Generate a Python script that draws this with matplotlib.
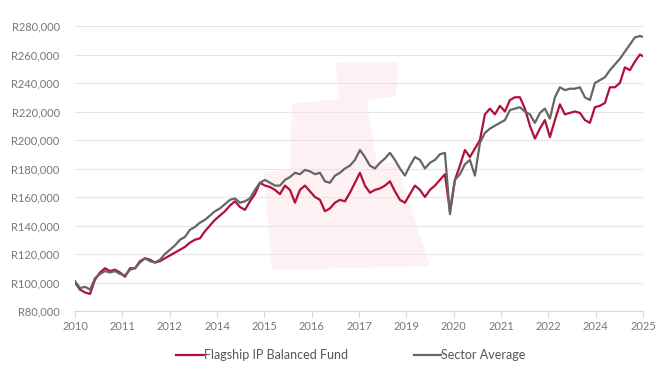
import numpy as np
import matplotlib
matplotlib.use("Agg")
import matplotlib.pyplot as plt
from matplotlib.patches import Polygon
from matplotlib.ticker import FuncFormatter

# ---- data (values in Rand) ----
tick_labels = ["2010", "2011", "2012", "2014", "2015", "2016", "2017",
               "2019", "2020", "2021", "2022", "2024", "2025"]

fund_k = [100, 95, 93, 92, 102, 107, 110, 108, 109, 107, 104, 110, 110, 115, 117,
          116, 114, 115, 117, 119, 121, 123, 125, 128, 130, 131, 136, 140, 144, 147,
          150, 154, 157, 153, 151, 157, 162, 170, 168, 167, 165, 162, 168, 165, 156,
          165, 168, 164, 160, 158, 150, 152, 156, 158, 157, 163, 170, 177, 168, 163,
          165, 166, 168, 171, 164, 158, 156, 162, 168, 165, 160, 165, 168, 172, 176,
          150, 172, 182, 193, 188, 194, 200, 218, 222, 218, 224, 220, 228, 230, 230,
          222, 210, 201, 208, 214, 202, 214, 225, 218, 219, 220, 219, 214, 212, 223,
          224, 226, 237, 237, 240, 251, 249, 255, 260, 258]

sector_k = [101, 96, 97, 95, 103, 106, 108, 107, 108, 106, 105, 109, 110, 114, 117,
            115, 114, 116, 120, 123, 126, 130, 132, 137, 139, 142, 144, 147, 150, 152,
            155, 158, 159, 156, 157, 159, 165, 170, 172, 170, 168, 168, 172, 174, 177,
            176, 179, 178, 176, 177, 171, 170, 175, 177, 180, 182, 186, 193, 188, 182,
            180, 184, 187, 191, 186, 180, 175, 182, 188, 186, 180, 184, 186, 190, 191,
            148, 172, 176, 183, 186, 175, 198, 205, 208, 210, 212, 214, 221, 222, 223,
            220, 218, 212, 219, 222, 215, 230, 237, 235, 236, 236, 237, 230, 228, 240,
            242, 244, 249, 253, 257, 262, 267, 272, 273, 272]

fund = np.array(fund_k) * 1000
sector = np.array(sector_k) * 1000

# ---- layout ----
W, H = 666, 376
fig = plt.figure(figsize=(W / 100, H / 100), dpi=100)
L, R, T, B = 75, 643, 26, 311
ax = fig.add_axes([L / W, 1 - B / H, (R - L) / W, (B - T) / H])
ax.set_facecolor("none")

# faint watermark (sail logo) behind the chart
def px(pts):
    return [(x / W, 1 - y / H) for x, y in pts]

wm = "#fdf1f3"
for poly in ([(335, 63), (398, 62), (396, 96), (340, 104)],
             [(292, 104), (366, 96), (378, 172), (290, 178)],
             [(264, 172), (396, 162), (430, 266), (272, 270)]):
    fig.patches.append(Polygon(px(poly), closed=True, transform=fig.transFigure,
                               facecolor=wm, edgecolor="none", zorder=-1))

n = len(fund)
x = np.linspace(0, 12.04, n)

red = "#b0113a"
grey = "#666666"
ax.plot(x, fund, color=red, lw=1.6, label="Flagship IP Balanced Fund", zorder=3,
        solid_joinstyle="round")
ax.plot(x, sector, color=grey, lw=1.6, label="Sector Average", zorder=3,
        solid_joinstyle="round")

ax.set_xlim(0, 12)
ax.set_ylim(80000, 280000)
ax.set_yticks(np.arange(80000, 280001, 20000))
ax.yaxis.set_major_formatter(FuncFormatter(lambda v, p: f"R{int(v):,}"))
ax.set_xticks(np.arange(len(tick_labels)))
ax.set_xticklabels(tick_labels)

for lab in ax.get_xticklabels() + ax.get_yticklabels():
    lab.set_fontfamily("Lato")
    lab.set_fontsize(8)
    lab.set_color("#777777")

ax.grid(axis="y", color="#e6e6e6", lw=0.8, zorder=0)
ax.set_axisbelow(True)
for s in ["top", "right", "left"]:
    ax.spines[s].set_visible(False)
ax.spines["bottom"].set_color("#d8d8d8")
ax.spines["bottom"].set_linewidth(0.8)
ax.tick_params(axis="y", length=0, pad=11)
ax.tick_params(axis="x", length=4, color="#d8d8d8", pad=3)

leg = fig.legend(loc="center", bbox_to_anchor=(351 / W, 1 - 355 / H), ncol=2,
                 frameon=False, handlelength=2.2, handletextpad=0.0,
                 columnspacing=5.3, prop={"family": "Lato", "size": 9})
for t in leg.get_texts():
    t.set_color("#555555")

fig.savefig("out.png", dpi=100)
